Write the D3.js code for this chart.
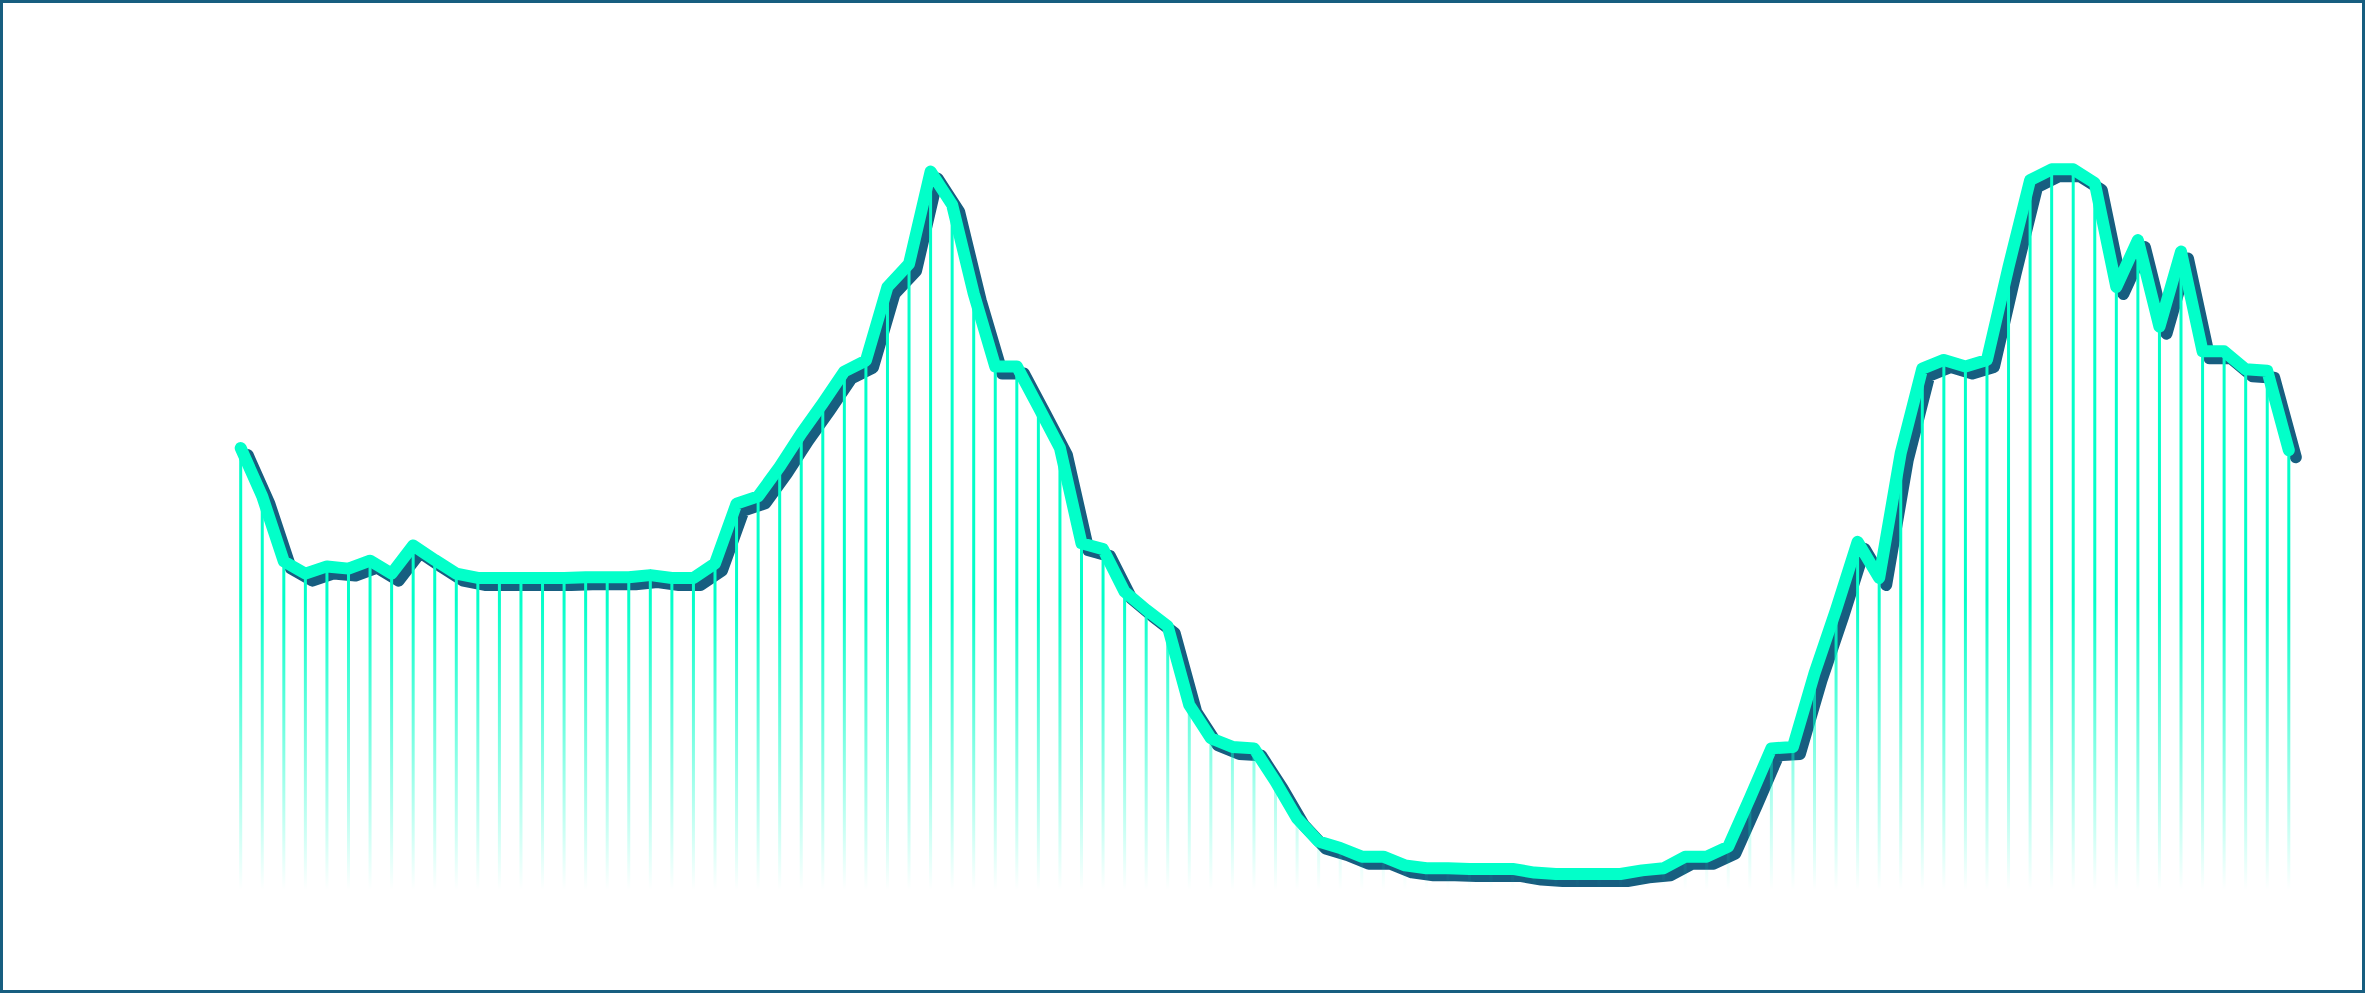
<!DOCTYPE html>
<html>
<head>
<meta charset="utf-8">
<script src="https://cdn.jsdelivr.net/npm/d3@7"></script>
<style>
  html, body { margin: 0; padding: 0; background: #ffffff; }
  svg { display: block; }
</style>
</head>
<body>
<svg id="chart" width="2365" height="993"></svg>
<script>
// Series values (one per period)
const values = [
  60.8, 54.1, 45.1, 43.4, 44.4, 44.1, 45.2, 43.4, 47.3, 45.3,
  43.4, 42.8, 42.8, 42.8, 42.8, 42.8, 42.9, 42.9, 42.9, 43.2,
  42.8, 42.8, 44.8, 53.1, 54.1, 58.2, 62.8, 67.0, 71.4, 72.9,
  83.1, 86.3, 99.1, 94.5, 82.2, 72.1, 72.1, 66.5, 60.8, 47.6,
  46.8, 40.9, 38.4, 36.1, 25.2, 20.6, 19.4, 19.2, 14.6, 9.5,
  6.3, 5.4, 4.2, 4.2, 3.0, 2.6, 2.6, 2.5, 2.5, 2.5,
  2.0, 1.8, 1.8, 1.8, 1.8, 2.3, 2.6, 4.2, 4.2, 5.6,
  12.3, 19.2, 19.4, 29.6, 38.4, 47.8, 42.8, 60.1, 71.8, 73.0,
  72.1, 73.0, 85.9, 97.9, 99.4, 99.4, 97.5, 83.1, 89.6, 77.6,
  88.0, 74.2, 74.2, 71.7, 71.5, 60.5
];
// Categories: period index for each value
const periods = values.map((_, i) => i);
const yDomain = [0, 100];

const W = 2365, H = 993;
const COLOR_LINE = "#02ffc9";
const COLOR_SHADOW = "#175e80";

const svg = d3.select("#chart");

const x = d3.scaleLinear()
  .domain(d3.extent(periods))
  .range([240.7, 2288.8]);
const y = d3.scaleLinear()
  .domain(yDomain)
  .range([887, 165]);
const baseY = 890;

// frame
svg.append("rect")
  .attr("x", 1.5).attr("y", 1.5)
  .attr("width", W - 3).attr("height", H - 3)
  .attr("fill", "#ffffff")
  .attr("stroke", COLOR_SHADOW)
  .attr("stroke-width", 3);

const defs = svg.append("defs");
const grad = defs.append("linearGradient")
  .attr("id", "fade")
  .attr("gradientUnits", "userSpaceOnUse")
  .attr("x1", 0).attr("y1", 600)
  .attr("x2", 0).attr("y2", baseY);
grad.append("stop").attr("offset", "0%").attr("stop-color", COLOR_LINE).attr("stop-opacity", 1);
grad.append("stop").attr("offset", "100%").attr("stop-color", COLOR_LINE).attr("stop-opacity", 0);

const data = periods.map((p, i) => ({ p, v: values[i] }));

const line = d3.line()
  .x(d => x(d.p))
  .y(d => y(d.v));

// shadow line
svg.append("path")
  .datum(data)
  .attr("d", line)
  .attr("transform", "translate(7,7)")
  .attr("fill", "none")
  .attr("stroke", COLOR_SHADOW)
  .attr("stroke-width", 12)
  .attr("stroke-linejoin", "round")
  .attr("stroke-linecap", "round");

// drop lines
svg.append("g")
  .selectAll("line")
  .data(data)
  .join("line")
  .attr("x1", d => x(d.p))
  .attr("x2", d => x(d.p))
  .attr("y1", d => y(d.v))
  .attr("y2", baseY)
  .attr("stroke", "url(#fade)")
  .attr("stroke-width", 3);

// main line
svg.append("path")
  .datum(data)
  .attr("d", line)
  .attr("fill", "none")
  .attr("stroke", COLOR_LINE)
  .attr("stroke-width", 12)
  .attr("stroke-linejoin", "round")
  .attr("stroke-linecap", "round");
</script>
</body>
</html>
